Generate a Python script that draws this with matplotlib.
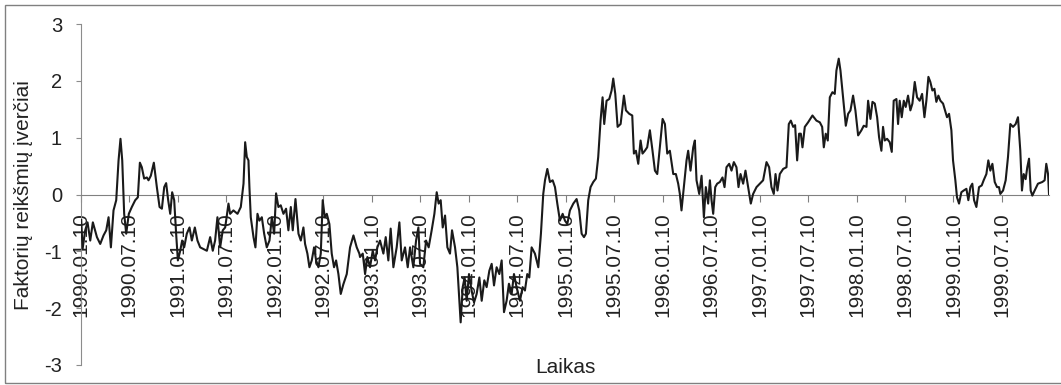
import matplotlib
matplotlib.use("Agg")
import matplotlib.pyplot as plt
from matplotlib.patches import Rectangle

plt.rcParams['font.family'] = ['Liberation Sans', 'DejaVu Sans']
plt.rcParams['axes.unicode_minus'] = False

# factor score estimates, time in decimal years (1990.01.10 - 1999.12)
t_1990_92 = [
    1990.027, 1990.041, 1990.068, 1990.092, 1990.120, 1990.147, 1990.189, 1990.223, 1990.257, 1990.285,
    1990.309, 1990.333, 1990.360, 1990.388, 1990.412, 1990.432, 1990.450, 1990.470, 1990.491, 1990.518,
    1990.549, 1990.584, 1990.611, 1990.632, 1990.652, 1990.676, 1990.704, 1990.721, 1990.745, 1990.776,
    1990.807, 1990.835, 1990.859, 1990.883, 1990.903, 1990.924, 1990.945, 1990.965, 1990.986, 1991.006,
    1991.024, 1991.048, 1991.068, 1991.089, 1991.116, 1991.144, 1991.168, 1991.199, 1991.226, 1991.254,
    1991.288, 1991.323, 1991.357, 1991.384, 1991.408, 1991.432, 1991.460, 1991.487, 1991.512, 1991.546,
    1991.563, 1991.597, 1991.639, 1991.673, 1991.701, 1991.718, 1991.735, 1991.752, 1991.762, 1991.776,
    1991.804, 1991.824, 1991.845, 1991.865, 1991.890, 1991.914, 1991.941, 1991.969, 1991.993, 1992.017,
    1992.037, 1992.061, 1992.085, 1992.113, 1992.140, 1992.164, 1992.189, 1992.209, 1992.237, 1992.268,
    1992.292, 1992.319, 1992.336, 1992.360, 1992.381, 1992.405, 1992.429, 1992.450, 1992.474, 1992.498,
    1992.518, 1992.539, 1992.560, 1992.587, 1992.611, 1992.635, 1992.656, 1992.680, 1992.704, 1992.731,
    1992.766, 1992.800, 1992.835, 1992.869, 1992.896,
]
v_1990_92 = [
    -0.45, -0.96, -0.63, -0.49, -0.81, -0.49, -0.75, -0.87, -0.72, -0.63,
    -0.40, -0.93, -0.28, -0.10, 0.60, 0.98, 0.60, -0.34, -0.69, -0.34,
    -0.22, -0.10, -0.05, 0.56, 0.48, 0.28, 0.30, 0.25, 0.33, 0.56,
    0.13, -0.22, -0.25, 0.13, 0.20, -0.10, -0.34, 0.04, -0.10, -0.69,
    -1.16, -0.99, -0.81, -0.93, -0.69, -0.58, -0.81, -0.58, -0.81, -0.93,
    -0.96, -0.99, -0.75, -0.99, -0.81, -0.40, -0.93, -0.63, -0.58, -0.16,
    -0.34, -0.28, -0.34, -0.22, 0.19, 0.92, 0.66, 0.60, 0.13, -0.40,
    -0.75, -0.93, -0.34, -0.46, -0.40, -0.69, -0.93, -0.81, -0.40, -0.69,
    0.02, -0.22, -0.19, -0.34, -0.25, -0.63, -0.22, -0.63, -0.08, -0.69,
    -0.81, -0.58, -0.87, -1.04, -1.28, -1.16, -0.93, -1.16, -1.28, -1.04,
    -0.10, -0.40, -0.34, -0.52, -1.04, -1.28, -1.16, -1.40, -1.75, -1.58,
    -1.40, -0.93, -0.72, -0.93, -1.04,
]

t_1993_96 = [
    1992.903, 1992.931, 1992.955, 1992.979, 1993.006, 1993.034, 1993.058, 1993.082, 1993.109, 1993.144,
    1993.168, 1993.195, 1993.219, 1993.247, 1993.281, 1993.309, 1993.333, 1993.367, 1993.395, 1993.419,
    1993.453, 1993.481, 1993.505, 1993.522, 1993.556, 1993.584, 1993.611, 1993.642, 1993.670, 1993.694,
    1993.714, 1993.735, 1993.756, 1993.780, 1993.804, 1993.831, 1993.852, 1993.883, 1993.907, 1993.927,
    1993.941, 1993.962, 1993.982, 1994.003, 1994.027, 1994.054, 1994.079, 1994.106, 1994.134, 1994.158,
    1994.185, 1994.209, 1994.237, 1994.261, 1994.285, 1994.312, 1994.340, 1994.364, 1994.388, 1994.415,
    1994.439, 1994.467, 1994.491, 1994.518, 1994.553, 1994.580, 1994.604, 1994.628, 1994.649, 1994.673,
    1994.707, 1994.742, 1994.769, 1994.793, 1994.811, 1994.835, 1994.862, 1994.890, 1994.914, 1994.938,
    1994.965, 1994.993, 1995.017, 1995.041, 1995.068, 1995.103, 1995.137, 1995.164, 1995.189, 1995.213,
    1995.233, 1995.257, 1995.281, 1995.309, 1995.336, 1995.360, 1995.384, 1995.405, 1995.422, 1995.446,
    1995.474, 1995.498, 1995.515, 1995.536, 1995.560, 1995.591, 1995.625, 1995.646, 1995.680, 1995.711,
    1995.728, 1995.749, 1995.773, 1995.797, 1995.817, 1995.841, 1995.865, 1995.893, 1995.920, 1995.945,
    1995.969, 1995.996, 1996.024, 1996.048, 1996.072, 1996.099, 1996.134, 1996.161, 1996.185, 1996.202,
    1996.219, 1996.243, 1996.271, 1996.288, 1996.312, 1996.340, 1996.357,
]
v_1993_96 = [
    -1.10, -1.04, -1.40, -1.10, -1.28, -0.99, -1.16, -0.93, -0.81, -1.04,
    -0.75, -1.16, -0.60, -1.28, -0.93, -0.49, -1.16, -0.93, -1.28, -0.93,
    -1.28, -0.81, -0.58, -1.22, -1.28, -0.81, -0.93, -0.63, -0.34, 0.04,
    -0.16, -0.10, -0.58, -0.37, -0.93, -1.04, -0.63, -0.93, -1.28, -1.87,
    -2.25, -1.63, -1.46, -1.87, -1.40, -1.69, -1.90, -1.75, -1.46, -1.87,
    -1.51, -1.63, -1.34, -1.22, -1.60, -1.28, -1.40, -1.16, -2.07, -1.87,
    -1.57, -1.75, -1.40, -1.63, -1.87, -1.63, -1.69, -1.40, -1.46, -0.93,
    -1.04, -1.28, -0.69, 0.01, 0.25, 0.45, 0.22, 0.25, 0.13, -0.16,
    -0.46, -0.34, -0.46, -0.52, -0.28, -0.16, -0.08, -0.28, -0.69, -0.75,
    -0.69, -0.10, 0.13, 0.22, 0.28, 0.66, 1.30, 1.71, 1.24, 1.65,
    1.68, 1.83, 2.04, 1.77, 1.19, 1.24, 1.74, 1.48, 1.42, 1.39,
    0.72, 0.77, 0.54, 0.95, 0.72, 0.77, 0.83, 1.13, 0.77, 0.42,
    0.36, 0.83, 1.33, 1.24, 0.72, 0.77, 0.36, 0.36, 0.19, 0.01,
    -0.28, 0.13, 0.60, 0.77, 0.42, 0.83, 0.95,
]

t_1996_99 = [
    1996.374, 1996.402, 1996.426, 1996.450, 1996.470, 1996.494, 1996.512, 1996.529, 1996.546, 1996.567,
    1996.587, 1996.615, 1996.642, 1996.663, 1996.683, 1996.711, 1996.735, 1996.759, 1996.786, 1996.807,
    1996.828, 1996.855, 1996.879, 1996.907, 1996.934, 1996.958, 1996.993, 1997.027, 1997.061, 1997.096,
    1997.123, 1997.147, 1997.171, 1997.189, 1997.209, 1997.233, 1997.268, 1997.302, 1997.326, 1997.347,
    1997.371, 1997.391, 1997.412, 1997.432, 1997.450, 1997.467, 1997.491, 1997.525, 1997.570, 1997.611,
    1997.646, 1997.670, 1997.687, 1997.707, 1997.728, 1997.749, 1997.776, 1997.800, 1997.817, 1997.841,
    1997.859, 1997.886, 1997.914, 1997.938, 1997.962, 1997.989, 1998.013, 1998.041, 1998.075, 1998.099,
    1998.127, 1998.144, 1998.168, 1998.189, 1998.213, 1998.237, 1998.257, 1998.281, 1998.298, 1998.316,
    1998.340, 1998.367, 1998.388, 1998.408, 1998.436, 1998.453, 1998.470, 1998.491, 1998.512, 1998.532,
    1998.556, 1998.580, 1998.601, 1998.625, 1998.649, 1998.676, 1998.701, 1998.725, 1998.745, 1998.766,
    1998.786, 1998.807, 1998.828, 1998.848, 1998.869, 1998.890, 1998.917, 1998.938, 1998.958, 1998.979,
    1999.003, 1999.020, 1999.044, 1999.061, 1999.082, 1999.106, 1999.130, 1999.158, 1999.178, 1999.199,
    1999.219, 1999.237, 1999.261, 1999.288, 1999.316, 1999.336, 1999.364, 1999.384, 1999.405, 1999.426,
    1999.450, 1999.474, 1999.494, 1999.508, 1999.536, 1999.563, 1999.587, 1999.611, 1999.639, 1999.666,
    1999.690, 1999.714, 1999.731, 1999.749, 1999.769, 1999.786, 1999.804, 1999.821, 1999.838, 1999.862,
    1999.896, 1999.941, 1999.965, 1999.982, 2000.000, 2000.010,
]
v_1996_99 = [
    0.25, 0.01, 0.33, -0.40, 0.13, -0.16, 0.25, -0.10, -0.34, 0.13,
    0.19, 0.22, 0.30, 0.13, 0.48, 0.54, 0.42, 0.57, 0.48, 0.13,
    0.36, 0.19, 0.42, 0.13, -0.16, 0.01, 0.13, 0.19, 0.25, 0.57,
    0.48, 0.13, 0.01, 0.36, 0.07, 0.36, 0.45, 0.48, 1.24, 1.30,
    1.19, 1.22, 0.60, 1.07, 1.07, 0.83, 1.19, 1.27, 1.39, 1.30,
    1.27, 1.19, 0.83, 1.07, 0.95, 1.71, 1.80, 1.77, 2.18, 2.39,
    2.18, 1.71, 1.21, 1.42, 1.48, 1.74, 1.48, 1.04, 1.13, 1.21,
    1.19, 1.65, 1.33, 1.63, 1.60, 1.36, 1.01, 0.77, 1.19, 0.95,
    0.98, 0.92, 0.75, 1.65, 1.68, 1.24, 1.65, 1.36, 1.65, 1.54,
    1.74, 1.48, 1.60, 1.98, 1.71, 1.65, 1.77, 1.36, 1.65, 2.07,
    1.98, 1.83, 1.86, 1.63, 1.74, 1.65, 1.60, 1.48, 1.36, 1.42,
    1.13, 0.60, 0.25, -0.05, -0.16, 0.04, 0.07, 0.10, -0.10, 0.13,
    0.19, -0.10, -0.22, 0.13, 0.16, 0.25, 0.36, 0.60, 0.42, 0.54,
    0.22, 0.13, 0.13, 0.01, 0.07, 0.25, 0.66, 1.24, 1.19, 1.24,
    1.36, 0.77, 0.07, 0.36, 0.27, 0.48, 0.63, 0.07, -0.02, 0.07,
    0.19, 0.22, 0.25, 0.54, 0.36, 0.01,
]

t = t_1990_92 + t_1993_96 + t_1996_99
v = v_1990_92 + v_1993_96 + v_1996_99

tick_labels = []
tick_pos = []
for y in range(1990, 2000):
    tick_labels += ["%d.01.10" % y, "%d.07.10" % y]
    tick_pos += [y + 9 / 365, y + 190 / 365]

W, H = 1061, 385
fig = plt.figure(figsize=(W / 100, H / 100), dpi=100)

# chart area frame
fig.patches.append(Rectangle((5 / W, 2 / H), 1.2, 378 / H, transform=fig.transFigure,
                             fill=False, edgecolor='#808080', lw=1.0))

ax = fig.add_axes([81 / W, 20 / H, (1049 - 81) / W, 341 / H])
ax.plot(t, v, color='#1a1a1a', lw=1.5, zorder=3)

ax.set_xlim(1990.027, 2000.010)
ax.set_ylim(-3, 3)

for s in ['top', 'right']:
    ax.spines[s].set_visible(False)
ax.spines['left'].set_color('#8c8c8c')
ax.spines['bottom'].set_color('#808080')
ax.spines['bottom'].set_position(('data', 0))

ax.set_yticks(range(-3, 4))
ax.tick_params(axis='y', length=3.6, color='#8c8c8c', pad=10, labelsize=14.5, labelcolor='#222222')

ax.set_xticks(tick_pos)
ax.set_xticklabels(tick_labels, rotation=90, ha='center', va='top')
ax.tick_params(axis='x', length=5, color='#808080', pad=8, labelsize=15, labelcolor='#222222')

fig.text(24 / W, 1 - 195 / H, 'Faktorių reikšmių įverčiai', rotation=90,
         ha='center', va='center', fontsize=15, color='#222222')
fig.text(565 / W, 1 - 373 / H, 'Laikas', ha='center', va='baseline',
         fontsize=15, color='#222222')

fig.savefig('out.png', dpi=100)
